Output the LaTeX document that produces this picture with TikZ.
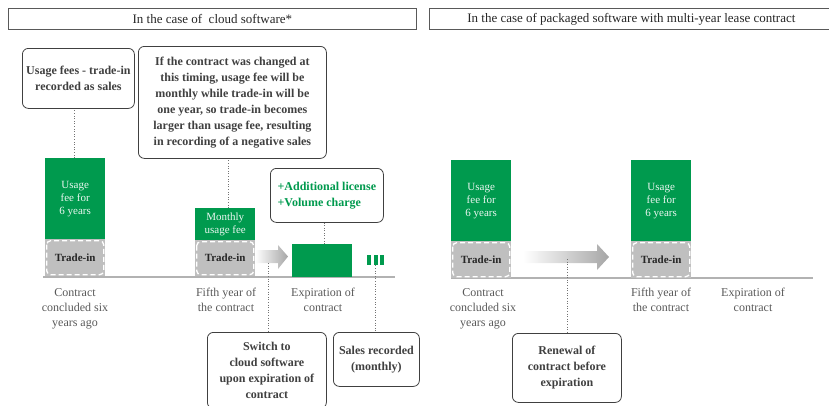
\documentclass[tikz,border=0pt]{standalone}
\usepackage{fontspec}
\setmainfont{Liberation Serif}
\definecolor{grn}{HTML}{009A4E}
\definecolor{tgray}{HTML}{BFBFBF}
\definecolor{txt}{HTML}{404040}
\definecolor{lblc}{HTML}{595959}
\definecolor{arrg}{HTML}{A6A6A6}
\begin{document}
\begin{tikzpicture}[x=1pt,y=-1pt,
 header/.style={draw=black!65, line width=0.7pt, inner sep=0pt, anchor=north west, font=\fontsize{13}{15}\selectfont, text=black!85},
 callout/.style={draw=txt, rounded corners=6pt, line width=0.8pt, inner sep=0pt, anchor=north west, align=center, font=\bfseries\fontsize{12}{16}\selectfont, text=txt, fill=white},
 greenbar/.style={fill=grn, inner sep=0pt, anchor=north west, align=center, text=white!92!grn, font=\fontsize{11}{13}\selectfont},
 tradein/.style={fill=tgray, inner sep=0pt, anchor=north west, font=\bfseries\fontsize{11}{13}\selectfont, text=black!85,
   path picture={\draw[white, line width=1.3pt, rounded corners=4pt, dash pattern=on 5pt off 3pt]
     ([shift={(1.5pt,-1.5pt)}]path picture bounding box.north west) rectangle
     ([shift={(-1.5pt,1.5pt)}]path picture bounding box.south east);}},
 minibar/.style={fill=grn, inner sep=0pt, anchor=north west, minimum width=4pt, minimum height=10pt},
 lbl/.style={align=center, text=lblc, inner sep=0pt, font=\fontsize{12}{15}\selectfont, anchor=north},
 leader/.style={draw=black!55, line width=0.8pt, dash pattern=on 0.8pt off 1.8pt},
 baseline/.style={draw=black!30, line width=1.5pt},
 arrowshade/.style={left color=white, right color=arrg, draw=none},
]
\useasboundingbox (0,0) rectangle (829,405);

% headers
\node[header, minimum width=408pt, minimum height=21pt] (h1) at (8,8) {In the case of\ \ cloud software*};
\node[header, minimum width=404pt, minimum height=21pt] (h2) at (429,8) {In the case of packaged software with multi-year lease contract};

% ---------- left panel ----------
\draw[baseline] (43,277) -- (395,277);
\node[greenbar, minimum width=60pt, minimum height=81pt] (g1) at (45,158) {Usage\\fee for\\6 years};
\node[tradein, minimum width=60pt, minimum height=37pt] (t1) at (45,239) {Trade-in};
\node[greenbar, minimum width=60pt, minimum height=32pt] (g2) at (195,208) {Monthly\\usage fee};
\node[tradein, minimum width=60pt, minimum height=36pt] (t2) at (195,240) {Trade-in};
\shade[arrowshade] (255,250) -- (278,250) -- (278,245) -- (288,256.5) -- (278,269) -- (278,263) -- (255,263) -- cycle;
\coordinate (a1) at (268,263);
\node[greenbar, minimum width=60pt, minimum height=33pt] (g3) at (292,244) {};
\node[minibar] (m1) at (367,255) {};
\node[minibar] (m2) at (373.5,255) {};
\node[minibar] (m3) at (380,255) {};

\node[callout, minimum width=112pt, minimum height=60pt] (c1) at (22,48) {Usage fees - trade-in\\recorded as sales};
\node[callout, minimum width=188pt, minimum height=112pt] (c2) at (138,46) {If the contract was changed at\\this timing, usage fee will be\\monthly while trade-in will be\\one year, so trade-in becomes\\larger than usage fee, resulting\\in recording of a negative sales};
\node[callout, minimum width=113pt, minimum height=54pt, text=grn] (c3) at (270,168) {\begin{tabular}{@{}l@{}}+Additional license\\+Volume charge\end{tabular}};
\node[callout, minimum width=119pt, minimum height=76pt] (c4) at (207,332) {Switch to\\cloud software\\upon expiration of\\contract};
\node[callout, minimum width=86pt, minimum height=54pt] (c5) at (333,332) {Sales recorded\\(monthly)};

\node[lbl] (l1) at (75,288) {Contract\\concluded six\\years ago};
\node[lbl] (l2) at (226,288) {Fifth year of\\the contract};
\node[lbl] (l3) at (323,288) {Expiration of\\contract};

\draw[leader] ([xshift=-1pt]g1.north) -- ([xshift=-1pt]g1.north |- c1.south);
\draw[leader] ([xshift=3pt]g2.north) -- ([xshift=3pt]g2.north |- c2.south);
\draw[leader] ([xshift=2pt]g3.north) -- ([xshift=2pt]g3.north |- c3.south);
\draw[leader] (m2.south) -- (m2.south |- c5.north);
\draw[leader] (a1) -- (a1 |- c4.north);

% ---------- right panel ----------
\draw[baseline] (451,278) -- (813,278);
\node[greenbar, minimum width=60pt, minimum height=81pt] (g4) at (451,160) {Usage\\fee for\\6 years};
\node[tradein, minimum width=60pt, minimum height=37pt] (t4) at (451,241) {Trade-in};
\node[greenbar, minimum width=60pt, minimum height=81pt] (g5) at (631,160) {Usage\\fee for\\6 years};
\node[tradein, minimum width=60pt, minimum height=37pt] (t5) at (631,241) {Trade-in};
\shade[arrowshade] (523,251) -- (597,251) -- (597,244) -- (609,257) -- (597,270) -- (597,263) -- (523,263) -- cycle;
\coordinate (a2) at (567,259);
\node[callout, minimum width=109pt, minimum height=69pt] (c6) at (512,333) {Renewal of\\contract before\\expiration};
\draw[leader] (a2) -- (a2 |- c6.north);

\node[lbl] (l4) at (483,288) {Contract\\concluded six\\years ago};
\node[lbl] (l5) at (661,288) {Fifth year of\\the contract};
\node[lbl] (l6) at (753,288) {Expiration of\\contract};
\end{tikzpicture}
\end{document}
